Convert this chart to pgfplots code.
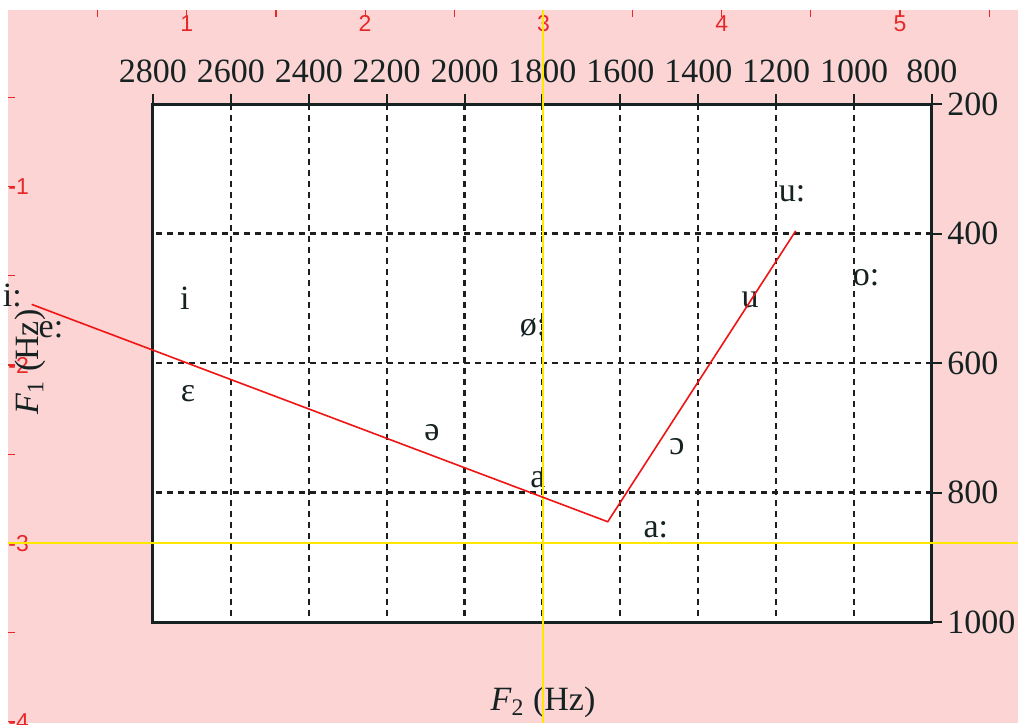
\documentclass[border=0pt]{standalone}
\usepackage{pgfplots}
\pgfplotsset{compat=1.18}
\usepackage{pgfplotstable}
\usepackage{fontspec}
\setmainfont{Liberation Serif}
\newfontfamily\geofont{Liberation Sans}

\definecolor{pinkbg}{RGB}{252,212,212}
\definecolor{inkdark}{RGB}{22,34,34}
\definecolor{geored}{RGB}{232,40,40}
\definecolor{axisyellow}{RGB}{255,232,0}
\definecolor{lineRed}{RGB}{240,20,20}
\definecolor{griddark}{RGB}{30,30,30}

% vowel positions: F2 (Hz), F1 (Hz), symbol
\pgfplotstableread{
F2 F1 lab
3161 513 {i:}
3062 561 {e:}
2718 517 {i}
2710 660 {ɛ}
1824 558 {ø:}
2084 720 {ə}
1812 792 {a}
1509 869 {a:}
1455 742 {ɔ}
1267 514 {u}
1159 351 {u:}
969 481 {o:}
}\vowels

\begin{document}
\begin{tikzpicture}
\path[use as bounding box, fill=white] (0,0) rectangle (509pt,-362pt);

% background coordinate frame (pink sheet with red ticks)
\begin{axis}[
  at={(4pt,-5pt)}, anchor=north west,
  scale only axis, width=505pt, height=356.7pt,
  xmin=-0.0028, xmax=5.6618, ymin=-4.01, ymax=-0.009,
  enlargelimits=false,
  axis background/.style={fill=pinkbg},
  axis line style={draw=none},
  xtick={0.5,1,...,5.5}, xticklabels={,1,,2,,3,,4,,5,},
  ytick={-4,-3.5,...,-0.5}, yticklabels={-4,,-3,,-2,,-1,},
  xtick pos=right, xticklabel pos=right,
  ytick pos=left, yticklabel pos=left,
  tick align=inside, major tick length=3.5pt,
  tick style={geored, line width=0.6pt},
  ticklabel style={font=\geofont\fontsize{11.5pt}{13pt}\selectfont, text=geored, inner sep=0pt},
  xticklabel style={anchor=north, yshift=-2.5pt},
  yticklabel style={anchor=west},
]
\end{axis}

% vowel chart
\begin{axis}[
  at={(76.5pt,-52pt)}, anchor=north west,
  scale only axis, width=389.5pt, height=259pt,
  xmin=800, xmax=2800, ymin=200, ymax=1000,
  x dir=reverse, y dir=reverse,
  enlargelimits=false, clip=false,
  axis background/.style={fill=white},
  xtick={800,1000,...,2800}, ytick={200,400,...,1000},
  xtick pos=right, xticklabel pos=right,
  ytick pos=right, yticklabel pos=right,
  tick align=outside, major tick length=5pt,
  grid=major,
  grid style={griddark, line width=1.1pt, dash pattern=on 3pt off 2.5pt},
  axis line style={inkdark, line width=1.5pt},
  tick style={inkdark, line width=1pt},
  /pgf/number format/1000 sep={},
  /pgf/number format/assume math mode=true,
  ticklabel style={font=\fontsize{17pt}{20pt}\selectfont, text=inkdark, inner sep=0pt},
  xticklabel style={anchor=base, yshift=6pt},
  yticklabel style={anchor=west, xshift=2.5pt},
  xlabel={\textit{F}\textsubscript{2} (Hz)},
  ylabel={\textit{F}\textsubscript{1} (Hz)},
  label style={font=\fontsize{17pt}{20pt}\selectfont, text=inkdark, inner sep=0pt},
  xlabel style={at={(axis description cs:0.5006,-0.170)}, anchor=base},
  ylabel style={at={(axis description cs:-0.158,0.502)}, anchor=center},
]
\addplot[only marks, mark=none, nodes near coords, point meta=explicit symbolic,
  every node near coord/.append style={anchor=base, inner sep=0pt,
    font=\fontsize{17pt}{20pt}\selectfont, text=inkdark}]
  table[x=F2, y=F1, meta=lab] {\vowels};
\end{axis}

% overlay: reference lines and the red path on the same frame
\begin{axis}[
  at={(4pt,-5pt)}, anchor=north west,
  scale only axis, width=505pt, height=356.7pt,
  xmin=-0.0028, xmax=5.6618, ymin=-4.01, ymax=-0.009,
  enlargelimits=false, hide axis, clip=false,
]
\addplot[axisyellow, line width=1pt] coordinates {(3,-0.009) (3,-4.01)};
\addplot[axisyellow, line width=1pt] coordinates {(-0.0028,-3) (5.6618,-3)};
\addplot[lineRed, line width=0.8pt] coordinates {(0.130,-1.660) (3.361,-2.879) (4.415,-1.248)};
\end{axis}
\end{tikzpicture}
\end{document}
